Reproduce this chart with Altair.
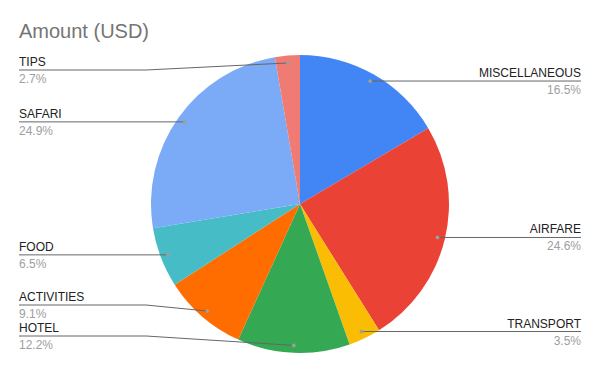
import altair as alt
import numpy as np
import pandas as pd

# ---- data ----
categories = ["MISCELLANEOUS", "AIRFARE", "TRANSPORT", "HOTEL",
              "ACTIVITIES", "FOOD", "SAFARI", "TIPS"]
values = [16.5, 24.6, 3.5, 12.2, 9.1, 6.5, 24.9, 2.7]
colors = ["#4285F4", "#EA4335", "#FBBC04", "#34A853",
          "#FF6D01", "#46BDC6", "#7BAAF7", "#F07B72"]
title_text = "Amount (USD)"

# ---- layout constants (pixels) ----
W, H = 584, 355
CX, CY = 292, 196
R = 149
DOT_R = 0.95 * R
LABEL_X = 281
ELBOW_X = 154
TOP, BOTTOM = 134, -132
GAP = 31
FONT = "Liberation Sans"

vals = np.array(values, dtype=float)
total = vals.sum()
mid = np.cumsum(vals) - vals / 2
ang = mid / total * 2 * np.pi
dot_x = DOT_R * np.sin(ang)
dot_y = DOT_R * np.cos(ang)
side = np.where(dot_x < 0, "left", "right")

label_y = np.clip(dot_y.copy(), BOTTOM, TOP)
for s in ["left", "right"]:
    idx = [i for i in range(len(categories)) if side[i] == s]
    idx.sort(key=lambda i: -dot_y[i])
    # push up from bottom
    for k in range(len(idx) - 2, -1, -1):
        label_y[idx[k]] = max(label_y[idx[k]], label_y[idx[k + 1]] + GAP)
    # push down from top
    for k in range(1, len(idx)):
        label_y[idx[k]] = min(label_y[idx[k]], label_y[idx[k - 1]] - GAP)

label_x = np.where(side == "left", -LABEL_X, LABEL_X)
elbow_x = np.where(side == "left", -ELBOW_X, ELBOW_X)

df = pd.DataFrame({
    "category": categories,
    "value": values,
    "idx": list(range(len(categories))),
    "pct": [f"{v / total * 100:.1f}%" for v in vals],
    "side": side,
    "dx": dot_x,
    "dy": dot_y,
    "lx": label_x,
    "ly": label_y,
})

rows = []
for i, c in enumerate(categories):
    rows.append({"category": c, "seq": 0, "x": label_x[i], "y": label_y[i]})
    rows.append({"category": c, "seq": 1, "x": elbow_x[i], "y": label_y[i]})
    rows.append({"category": c, "seq": 2, "x": dot_x[i], "y": dot_y[i]})
df_lines = pd.DataFrame(rows)

xs = alt.Scale(domain=[-CX, W - CX], nice=False, zero=False)
ys = alt.Scale(domain=[CY - H, CY], nice=False, zero=False)

arc = alt.Chart(df).mark_arc(outerRadius=R).encode(
    theta=alt.Theta("value:Q", stack=True),
    color=alt.Color("category:N", scale=alt.Scale(domain=categories, range=colors), legend=None),
    order=alt.Order("idx:Q"),
    x=alt.value(CX),
    y=alt.value(CY),
)

lines = alt.Chart(df_lines).mark_line(color="#666666", strokeWidth=1).encode(
    x=alt.X("x:Q", scale=xs, axis=None),
    y=alt.Y("y:Q", scale=ys, axis=None),
    detail="category:N",
    order="seq:Q",
)

dots = alt.Chart(df).mark_circle(size=14, color="#9e9e9e", opacity=1).encode(
    x=alt.X("dx:Q", scale=xs, axis=None),
    y=alt.Y("dy:Q", scale=ys, axis=None),
)

def labels(s, align):
    base = alt.Chart(df).transform_filter(alt.datum.side == s)
    name = base.mark_text(align=align, baseline="alphabetic", dy=-4, fontSize=12,
                          font=FONT, color="#222222").encode(
        x=alt.X("lx:Q", scale=xs, axis=None),
        y=alt.Y("ly:Q", scale=ys, axis=None),
        text="category:N",
    )
    pct = base.mark_text(align=align, baseline="alphabetic", dy=13, fontSize=12,
                         font=FONT, color="#9e9e9e").encode(
        x=alt.X("lx:Q", scale=xs, axis=None),
        y=alt.Y("ly:Q", scale=ys, axis=None),
        text="pct:N",
    )
    return name + pct

title = alt.Chart(pd.DataFrame({"t": [title_text]})).mark_text(
    align="left", baseline="alphabetic", fontSize=20, font=FONT, color="#757575"
).encode(x=alt.value(11), y=alt.value(30), text="t:N")

chart = alt.layer(arc, lines, dots, labels("left", "left"), labels("right", "right"), title).properties(
    width=W, height=H, autosize=alt.AutoSizeParams(type="none"), padding=0,
    background="white",
).configure_view(stroke=None)

chart.save("out.html", embed_options={"renderer": "svg", "actions": False})
